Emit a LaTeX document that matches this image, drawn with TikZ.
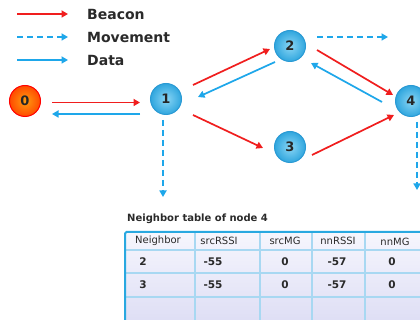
\documentclass[tikz,border=0pt]{standalone}
\usepackage{fontspec}
\setmainfont{DejaVu Sans}
\usetikzlibrary{arrows.meta}
\definecolor{beaconred}{HTML}{F01E1E}
\definecolor{datablue}{HTML}{1EA7EA}
\definecolor{nodeborder}{HTML}{2A9AD4}
\definecolor{nodein}{HTML}{8AD6F5}
\definecolor{nodeout}{HTML}{30A6DE}
\definecolor{srcin}{HTML}{FF9C10}
\definecolor{srcout}{HTML}{FF4A00}
\definecolor{tabborder}{HTML}{29A8E0}
\definecolor{tabline}{HTML}{A8D8F2}
\definecolor{tabtop}{HTML}{F6F6FD}
\definecolor{tabbot}{HTML}{DCDCF4}
\definecolor{txt}{HTML}{2A2A2A}
\tikzset{
  tip/.style={-{Triangle[length=6.5pt,width=7pt]}},
  beacon/.style={tip, draw=beaconred, line width=1.7pt},
  datalink/.style={tip, draw=datablue, line width=1.7pt},
  move/.style={tip, draw=datablue, line width=1.7pt, dash pattern=on 6pt off 4pt},
  net/.style={circle, minimum size=31pt, inner sep=0pt, line width=1pt, draw=nodeborder,
    inner color=nodein, outer color=nodeout, font=\bfseries\fontsize{13}{13}\selectfont, text=black!85},
  src/.style={net, draw=red, inner color=srcin, outer color=srcout},
  legend/.style={anchor=west, font=\bfseries\fontsize{14}{14}\selectfont, text=txt, inner sep=0pt},
  cell/.style={font=\fontsize{10}{10}\selectfont, text=txt, inner sep=0pt},
  val/.style={font=\bfseries\fontsize{10.5}{10}\selectfont, text=txt, inner sep=0pt},
}
\begin{document}
\begin{tikzpicture}[x=1pt,y=-1pt]
\useasboundingbox (0,0) rectangle (420,320);
\clip (0,0) rectangle (420,320);
\fill[white] (0,0) rectangle (420,320);
% legend
\node[legend] (lb) at (87,14) {Beacon};
\node[legend] (lm) at (87,37) {Movement};
\node[legend] (ld) at (87,60) {Data};
\coordinate (lbs) at (17,14); \coordinate (lbe) at (68,14);
\coordinate (lms) at (17,37); \coordinate (lme) at (68,37);
\coordinate (lds) at (17,60); \coordinate (lde) at (68,60);
\draw[beacon] (lbs) -- (lbe);
\draw[move] (lms) -- (lme);
\draw[datalink] (lds) -- (lde);
% nodes
\node[src] (n0) at (25,101) {0};
\node[net] (n1) at (166,99) {1};
\node[net] (n2) at (290,46) {2};
\node[net] (n3) at (290,147) {3};
\node[net] (n4) at (411,101) {4};
% connectors
\draw[beacon] ([xshift=27pt,yshift=-1.5pt]n0.center) -- ([xshift=-26pt,yshift=-3.5pt]n1.center);
\draw[datalink] ([xshift=-26pt,yshift=-15pt]n1.center) -- ([xshift=27pt,yshift=-13pt]n0.center);
\coordinate (m1) at (163,197);
\draw[move] ([xshift=-3pt,yshift=-21pt]n1.center) -- (m1);
\draw[beacon] ([xshift=27pt,yshift=14pt]n1.center) -- ([xshift=-20pt,yshift=-3pt]n2.center);
\draw[datalink] ([xshift=-15pt,yshift=-16pt]n2.center) -- ([xshift=32pt,yshift=2pt]n1.center);
\draw[beacon] ([xshift=27pt,yshift=-16pt]n1.center) -- ([xshift=-27pt,yshift=-1pt]n3.center);
\coordinate (m2) at (388,37);
\draw[move] ([xshift=27pt,yshift=9pt]n2.center) -- (m2);
\draw[beacon] ([xshift=27pt,yshift=-4pt]n2.center) -- ([xshift=-18pt,yshift=6pt]n4.center);
\draw[datalink] ([xshift=-29pt,yshift=-1pt]n4.center) -- ([xshift=21pt,yshift=-17pt]n2.center);
\draw[beacon] ([xshift=22pt,yshift=-8pt]n3.center) -- ([xshift=-17pt,yshift=-14pt]n4.center);
\coordinate (m4) at (417,190);
\draw[move] ([xshift=6pt,yshift=-21pt]n4.center) -- (m4);
% table
\node[anchor=west, font=\bfseries\fontsize{10}{10}\selectfont, text=txt, inner sep=0pt] (tt) at (127,219) {Neighbor table of node 4};
\shade[top color=tabtop, bottom color=tabbot] (125,232) rectangle (440,330);
\foreach \y in {250,273,297} \draw[tabline, line width=1.2pt] (125,\y) -- (440,\y);
\foreach \x in {195,260,312,365} \draw[tabline, line width=1.2pt] (\x,232) -- (\x,330);
\draw[tabborder, line width=2pt, rounded corners=1.5pt] (125,232) rectangle (440,330);
\node[cell] (h1) at (158,241) {Neighbor};
\node[cell] (h2) at (219,241) {srcRSSI};
\node[cell] (h3) at (285,241) {srcMG};
\node[cell] (h4) at (338,241) {nnRSSI};
\node[cell] (h5) at (395,242) {nnMG};
\node[val] (a1) at (143,262) {2};
\node[val] (a2) at (213,262) {-55};
\node[val] (a3) at (285,262) {0};
\node[val] (a4) at (337,262) {-57};
\node[val] (a5) at (392,262) {0};
\node[val] (b1) at (143,285) {3};
\node[val] (b2) at (213,285) {-55};
\node[val] (b3) at (285,285) {0};
\node[val] (b4) at (337,285) {-57};
\node[val] (b5) at (392,285) {0};
\end{tikzpicture}
\end{document}
